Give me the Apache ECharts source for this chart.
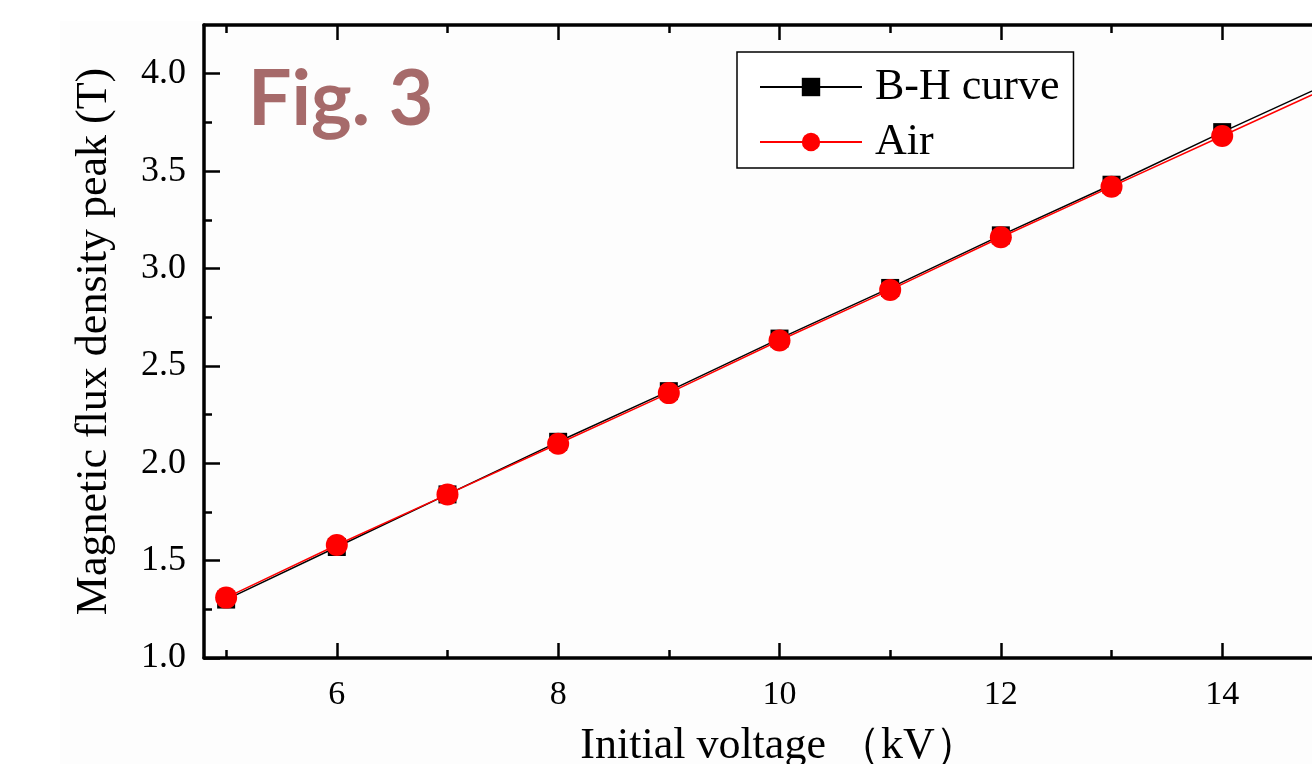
<!DOCTYPE html>
<html>
<head>
<meta charset="utf-8">
<script src="https://cdn.jsdelivr.net/npm/echarts@6/dist/echarts.min.js"></script>
<style>
  html, body, #main {
    margin: 0;
    padding: 0;
    width: 1312px;
    height: 764px;
    overflow: hidden;
    background: #ffffff;
  }
</style>
</head>
<body>
<div id="main"></div>
<script>
// initial voltage (kV)
const voltage = [5, 6, 7, 8, 9, 10, 11, 12, 13, 14, 15];
// magnetic flux density peak (T)
const bhCurve = [1.30, 1.57, 1.84, 2.11, 2.37, 2.64, 2.90, 3.17, 3.43, 3.70, 3.96];
const air = [1.31, 1.58, 1.84, 2.10, 2.36, 2.63, 2.89, 3.16, 3.42, 3.68, 3.94];

const xLabels = [6, 8, 10, 12, 14];
const xMinor = [5, 7, 9, 11, 13, 15];
const yLabels = [1.0, 1.5, 2.0, 2.5, 3.0, 3.5, 4.0];
const yMinor = [1.25, 1.75, 2.25, 2.75, 3.25, 3.75];

const serif = "'Liberation Serif', 'Times New Roman', serif";
const X_MIN = 4.8, X_MAX = 15.2, Y_MIN = 1.0, Y_MAX = 4.25;

const toPairs = (ys) => voltage.map((v, i) => [v, ys[i]]);

// frame axis helper: one axis for the long ticks, one for the short ones
function frameAxis(pos, min, max, ticks, len, withLine, labels) {
  return {
    type: "value",
    position: pos,
    min: min,
    max: max,
    splitLine: { show: false },
    axisLine: { show: withLine, onZero: false, lineStyle: { color: "#000", width: 3.5 } },
    axisTick: {
      show: true,
      inside: true,
      length: len,
      customValues: ticks,
      lineStyle: { color: "#000", width: 2.5 },
    },
    axisLabel: labels
      ? {
          show: true,
          customValues: labels,
          color: "#000",
          fontFamily: serif,
          fontSize: pos === "left" ? 36 : 34,
          margin: pos === "left" ? 18 : 20,
          formatter: (v) => (pos === "left" ? v.toFixed(1) : String(v)),
        }
      : { show: false },
  };
}

const myChart = echarts.init(document.getElementById("main"));

const xMain = frameAxis("bottom", X_MIN, X_MAX, xLabels, 15, true, xLabels);
xMain.name = "Initial voltage （kV）";
xMain.nameLocation = "middle";
xMain.nameGap = 66;
xMain.nameTextStyle = { color: "#000", fontFamily: serif, fontSize: 44 };

const yMain = frameAxis("left", Y_MIN, Y_MAX, yLabels, 16, true, yLabels);
yMain.name = "Magnetic flux density peak (T)";
yMain.nameLocation = "middle";
yMain.nameGap = 88;
yMain.nameTextStyle = { color: "#000", fontFamily: serif, fontSize: 44 };

const option = {
  backgroundColor: "#ffffff",
  animation: false,
  graphic: [
    {
      type: "rect",
      z: -10,
      silent: true,
      shape: { x: 60, y: 21, width: 1260, height: 750 },
      style: { fill: "#fdfdfd" },
    },
    {
      type: "text",
      left: 248,
      top: 62,
      z: 10,
      style: {
        text: "Fig. 3",
        fill: "#a66a6a",
        fontFamily: "Lato, 'Open Sans', sans-serif",
        fontWeight: "bold",
        fontSize: 77,
      },
    },
  ],
  grid: {
    left: 204,
    top: 25,
    right: -43,
    bottom: 106,
    containLabel: false,
    outerBoundsMode: "none",
  },
  legend: {
    orient: "vertical",
    left: 737,
    top: 52,
    data: ["B-H curve", "Air"],
    itemWidth: 102,
    itemHeight: 23,
    itemGap: 11,
    padding: [13, 14, 4, 22],
    borderColor: "#000",
    borderWidth: 1.5,
    backgroundColor: "#ffffff",
    textStyle: {
      color: "#000",
      fontFamily: serif,
      fontSize: 44,
      padding: [0, 0, 0, 8],
    },
  },
  xAxis: [
    xMain,
    frameAxis("bottom", X_MIN, X_MAX, xMinor, 8, false, null),
    frameAxis("top", X_MIN, X_MAX, xLabels, 15, true, null),
    frameAxis("top", X_MIN, X_MAX, xMinor, 8, false, null),
  ],
  yAxis: [
    yMain,
    frameAxis("left", Y_MIN, Y_MAX, yMinor, 8, false, null),
    frameAxis("right", Y_MIN, Y_MAX, yLabels, 16, true, null),
    frameAxis("right", Y_MIN, Y_MAX, yMinor, 8, false, null),
  ],
  series: [
    {
      name: "B-H curve",
      type: "line",
      xAxisIndex: 0,
      yAxisIndex: 0,
      symbol: "rect",
      symbolSize: 18,
      showAllSymbol: true,
      clip: false,
      itemStyle: { color: "#000000" },
      lineStyle: { color: "#000000", width: 1.5 },
      data: toPairs(bhCurve),
    },
    {
      name: "Air",
      type: "line",
      xAxisIndex: 0,
      yAxisIndex: 0,
      symbol: "circle",
      symbolSize: 22,
      showAllSymbol: true,
      clip: false,
      itemStyle: { color: "#ff0000" },
      lineStyle: { color: "#ff0000", width: 1.5 },
      data: toPairs(air),
    },
  ],
};

myChart.setOption(option);
window.onresize = myChart.resize;
</script>
</body>
</html>
